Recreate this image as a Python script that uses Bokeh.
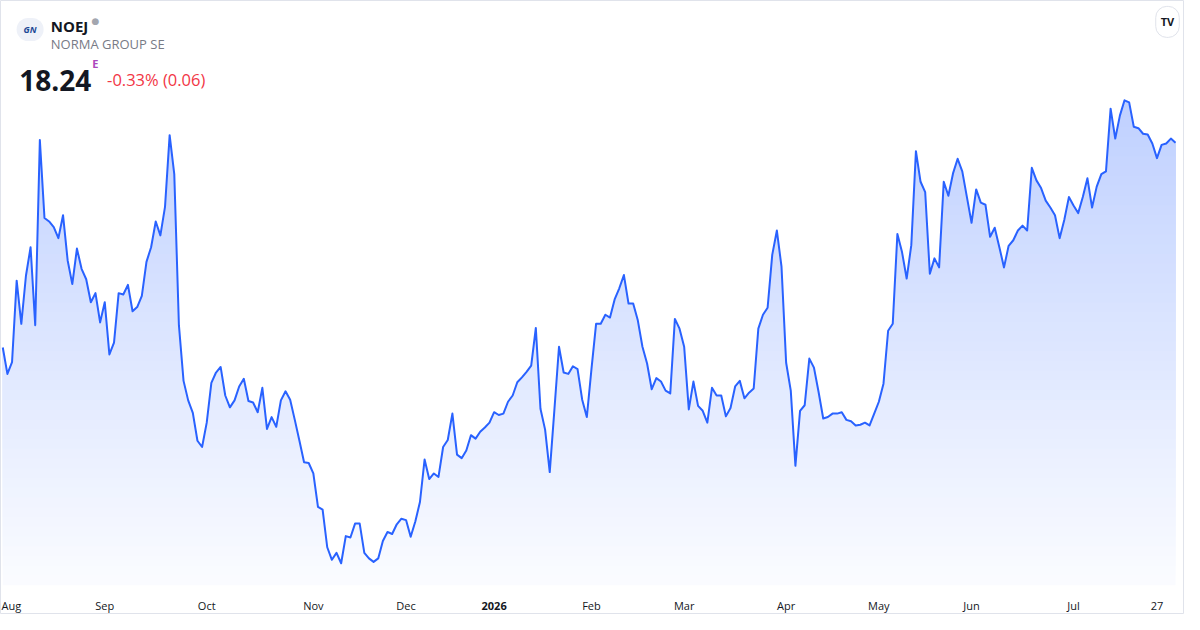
import pandas as pd
from bokeh.plotting import figure
from bokeh.models import Range1d, Label
from bokeh.embed import file_html
from bokeh.resources import INLINE

# ---------------- data ----------------
symbol = "NOEJ"
company = "NORMA GROUP SE"
last_price = "18.24"
change_text = "-0.33% (0.06)"

exchange_holidays = ["2025-12-24", "2025-12-25", "2025-12-26", "2025-12-31",
                     "2026-01-01", "2026-04-03", "2026-04-06", "2026-05-01"]
dates = list(pd.bdate_range("2025-07-31", "2026-07-31", freq="C",
                            holidays=exchange_holidays).strftime("%Y-%m-%d"))

close = [
    15.30, 14.92, 15.09, 16.26, 15.64, 16.33, 16.74, 15.62, 18.28, 17.16,
    17.11, 17.03, 16.87, 17.20, 16.55, 16.21, 16.72, 16.43, 16.28, 15.95,
    16.08, 15.66, 15.95, 15.20, 15.37, 16.08, 16.06, 16.20, 15.82, 15.88,
    16.04, 16.53, 16.74, 17.11, 16.91, 17.32, 18.35, 17.79, 15.62, 14.82,
    14.54, 14.36, 13.96,
    13.87, 14.22, 14.79, 14.94, 15.02, 14.61, 14.44, 14.54, 14.74, 14.85,
    14.53, 14.51, 14.37, 14.72, 14.13, 14.30, 14.16, 14.54, 14.67, 14.55,
    14.26, 13.96, 13.65, 13.64, 13.49, 13.01, 12.97, 12.43, 12.25, 12.35,
    12.20, 12.59, 12.57, 12.77, 12.77, 12.35, 12.27, 12.22, 12.27, 12.52,
    12.65, 12.62, 12.76, 12.84, 12.82, 12.58, 12.80, 13.08, 13.69,
    13.41, 13.49, 13.44, 13.87, 13.97, 14.35, 13.76, 13.71, 13.82, 14.04,
    13.99, 14.09, 14.15, 14.22, 14.37, 14.33, 14.35, 14.52, 14.61, 14.80,
    14.87, 14.95, 15.04, 15.58, 14.42, 14.12, 13.51, 14.40, 15.31, 14.94,
    14.92, 15.03, 14.99, 14.55, 14.30, 14.99, 15.64, 15.64, 15.77, 15.73,
    15.99, 16.15, 16.34, 15.93,
    15.93, 15.69, 15.31, 15.07, 14.70, 14.86, 14.81, 14.68, 14.64, 15.71,
    15.57, 15.31, 14.41, 14.81, 14.46, 14.39, 14.22, 14.72, 14.61, 14.61,
    14.31, 14.43, 14.74, 14.82, 14.57, 14.65, 14.71, 15.57, 15.77, 15.87,
    16.63, 16.98, 16.46, 15.08, 14.68, 13.60, 14.39, 14.47, 15.14, 15.01,
    14.66, 14.28, 14.30, 14.35, 14.35, 14.37, 14.26, 14.24, 14.18, 14.19,
    14.22, 14.18, 14.35, 14.52, 14.78, 15.54, 15.64, 16.93, 16.67, 16.29,
    16.77, 18.12, 17.68, 17.53, 16.36, 16.58, 16.45, 17.68, 17.48, 17.80,
    18.01, 17.83, 17.46, 17.09, 17.57, 17.38, 17.35, 16.89, 17.02, 16.74,
    16.45,
    16.76, 16.84, 16.98, 17.05, 16.98, 17.88, 17.70, 17.59, 17.41, 17.31,
    17.20, 16.87, 17.13, 17.46, 17.34, 17.23, 17.46, 17.73, 17.31, 17.61,
    17.79, 17.83, 18.73, 18.30, 18.63, 18.85, 18.82, 18.47, 18.45, 18.37,
    18.36, 18.23, 18.02, 18.21, 18.23, 18.30, 18.24,
]

tick_labels = ["Aug", "Sep", "Oct", "Nov", "Dec", "2026", "Feb", "Mar",
               "Apr", "May", "Jun", "Jul", "27"]
tick_dates = ["2025-08-01", "2025-09-01", "2025-10-01", "2025-11-03",
              "2025-12-01", "2026-01-02", "2026-02-02", "2026-03-02",
              "2026-04-01", "2026-05-04", "2026-06-01", "2026-07-01",
              "2026-07-27"]

# ---------------- layout / style ----------------
n = min(len(dates), len(close))
xs = list(range(n))
ys = close[:n]

W, H = 1184, 614
FONT = "Open Sans"
LINE = "#2962ff"

p = figure(width=W, height=H, output_backend="svg", toolbar_location=None,
           x_range=Range1d(-0.49, 254.94), y_range=Range1d(11.464, 20.284),
           x_axis_location=None, y_axis_location=None, min_border=0)
p.grid.visible = False
p.outline_line_color = "#e0e3eb"
p.background_fill_color = "white"
p.border_fill_color = "white"


def clipped_top(level):
    """Top edge of the area above `level`, with exact crossing points."""
    rx, ry = [], []
    for i in range(n):
        if i > 0:
            a, b = ys[i - 1], ys[i]
            if (a - level) * (b - level) < 0:
                t = (level - a) / (b - a)
                rx.append(xs[i - 1] + t)
                ry.append(level)
        rx.append(xs[i])
        ry.append(max(ys[i], level))
    return rx, ry


# gradient area (stacked opaque layers)
base_price, top_price = 11.884, 18.884
N = 50
for k in range(N):
    lo = base_price + (top_price - base_price) * k / N
    a = 0.02 + 0.28 * (k + 0.5) / N
    col = "#%02x%02x%02x" % (round(255 - 214 * a), round(255 - 157 * a), 255)
    rx, ry = clipped_top(lo)
    p.varea(x=rx, y1=[lo] * len(rx), y2=ry, fill_color=col, fill_alpha=1.0)

p.line(xs, ys, line_color=LINE, line_width=2, line_join="round")

# x labels
for lab, d in zip(tick_labels, tick_dates):
    if d not in dates:
        continue
    i = dates.index(d)
    if lab == "Aug":
        p.add_layout(Label(x=1, y=9, x_units="screen", y_units="screen", text=lab,
                           text_font=FONT, text_font_size="11px", text_color="#131722",
                           text_align="left", text_baseline="alphabetic"))
        continue
    p.add_layout(Label(x=i, y=9, x_units="data", y_units="screen", text=lab,
                       text_font=FONT, text_font_size="11px",
                       text_font_style="bold" if lab == "2026" else "normal",
                       text_color="#131722", text_align="center",
                       text_baseline="alphabetic"))

# header
p.add_layout(Label(x=29.6, y=585, x_units="screen", y_units="screen", text="GN",
                   text_font=FONT, text_font_size="9px", text_font_style="bold italic",
                   text_color="#1c4996", text_align="center", text_baseline="middle",
                   background_fill_color="#eef1f8", border_radius=12, padding=(7, 5)))
p.add_layout(Label(x=50.3, y=588.2, x_units="screen", y_units="screen", text=symbol,
                   text_font=FONT, text_font_size="15px", text_font_style="bold",
                   text_color="#131722", text_baseline="alphabetic"))
p.add_layout(Label(x=91, y=593.5, x_units="screen", y_units="screen", text="●",
                   text_font="DejaVu Sans", text_font_size="9px",
                   text_color="#a3a6af", text_baseline="middle"))
p.add_layout(Label(x=50.3, y=570.1, x_units="screen", y_units="screen", text=company,
                   text_font=FONT, text_font_size="13px",
                   text_color="#787b86", text_baseline="alphabetic"))
p.add_layout(Label(x=18.7, y=534.1, x_units="screen", y_units="screen", text=last_price,
                   text_font=FONT, text_font_size="28px", text_font_style="bold",
                   text_color="#131722", text_baseline="alphabetic"))
p.add_layout(Label(x=91.8, y=550.7, x_units="screen", y_units="screen", text="E",
                   text_font=FONT, text_font_size="11px", text_font_style="bold",
                   text_color="#ab47bc", text_baseline="alphabetic"))
p.add_layout(Label(x=106.6, y=535.1, x_units="screen", y_units="screen", text=change_text,
                   text_font=FONT, text_font_size="16.5px",
                   text_color="#f23645", text_baseline="alphabetic"))
# TradingView badge
p.add_layout(Label(x=1167, y=592.6, x_units="screen", y_units="screen", text="TV",
                   text_font=FONT, text_font_size="11px", text_font_style="bold",
                   text_color="#131722", text_align="center", text_baseline="middle",
                   background_fill_color="white", border_line_color="#e0e3eb",
                   border_radius=11, padding=(5, 8)))

open("out.html", "w").write(file_html(p, INLINE))
